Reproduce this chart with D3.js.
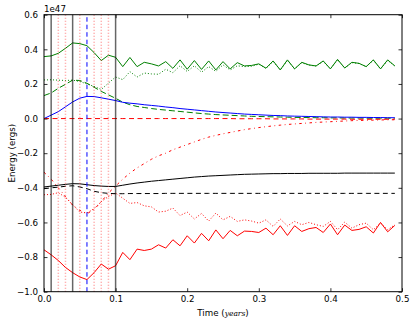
<!DOCTYPE html>
<html>
<head>
<meta charset="utf-8">
<script src="https://cdn.jsdelivr.net/npm/d3@7"></script>
<style>
  body { margin: 0; background: #fff; }
  svg { display: block; font-family: "DejaVu Sans", sans-serif; }
</style>
</head>
<body>
<div id="chart"></div>
<script>
/*-------------------- Data (energies in units of 1e47 ergs) -------------------*/

var times = [0.00, 0.01, 0.02, 0.03, 0.04, 0.05, 0.06, 0.07, 0.08, 0.09,
             0.10, 0.11, 0.12, 0.13, 0.14, 0.15, 0.16, 0.17, 0.18, 0.19,
             0.20, 0.21, 0.22, 0.23, 0.24, 0.25, 0.26, 0.27, 0.28, 0.29,
             0.30, 0.31, 0.32, 0.33, 0.34, 0.35, 0.36, 0.37, 0.38, 0.39,
             0.40, 0.41, 0.42, 0.43, 0.44, 0.45, 0.46, 0.47, 0.48, 0.49];

var greenSolid = [0.358, 0.362, 0.377, 0.406, 0.437, 0.433, 0.421, 0.381, 0.335, 0.366,
                  0.354, 0.300, 0.353, 0.300, 0.325, 0.316, 0.304, 0.329, 0.290, 0.339,
                  0.285, 0.335, 0.284, 0.333, 0.281, 0.329, 0.287, 0.323, 0.304, 0.307,
                  0.316, 0.291, 0.333, 0.281, 0.339, 0.287, 0.325, 0.310, 0.304, 0.333,
                  0.287, 0.342, 0.292, 0.325, 0.319, 0.300, 0.339, 0.287, 0.339, 0.304];

var greenDotted = [0.223, 0.224, 0.222, 0.220, 0.222, 0.214, 0.200, 0.186, 0.168, 0.205,
                   0.240, 0.225, 0.271, 0.240, 0.263, 0.258, 0.256, 0.285, 0.265, 0.305,
                   0.272, 0.305, 0.268, 0.300, 0.273, 0.310, 0.281, 0.305, 0.300, 0.302,
                   0.314, 0.290, 0.330, 0.281, 0.336, 0.287, 0.322, 0.309, 0.303, 0.330,
                   0.287, 0.338, 0.292, 0.323, 0.318, 0.300, 0.336, 0.287, 0.336, 0.304];

var greenDashed = [0.133, 0.148, 0.175, 0.198, 0.222, 0.220, 0.204, 0.181, 0.157, 0.137,
                   0.117, 0.095, 0.080, 0.070, 0.064, 0.058, 0.053, 0.049, 0.045, 0.041,
                   0.037, 0.033, 0.029, 0.026, 0.023, 0.021, 0.019, 0.017, 0.015, 0.013,
                   0.012, 0.011, 0.010, 0.009, 0.008, 0.007, 0.006, 0.006, 0.005, 0.005,
                   0.004, 0.004, 0.003, 0.003, 0.003, 0.002, 0.002, 0.002, 0.002, 0.002];

var blueSolid = [0.000, 0.020, 0.040, 0.068, 0.096, 0.118, 0.128, 0.127, 0.120, 0.112,
                 0.104, 0.094, 0.089, 0.085, 0.080, 0.076, 0.072, 0.067, 0.063, 0.058,
                 0.054, 0.050, 0.046, 0.042, 0.038, 0.035, 0.032, 0.029, 0.026, 0.024,
                 0.022, 0.020, 0.018, 0.017, 0.015, 0.014, 0.013, 0.012, 0.011, 0.010,
                 0.009, 0.009, 0.008, 0.008, 0.007, 0.007, 0.006, 0.006, 0.005, 0.005];

var redDashed = [0.000, 0.000, 0.000, 0.000, 0.000, 0.000, 0.000, 0.000, 0.000, 0.000,
                 0.000, 0.000, 0.000, 0.000, 0.000, 0.000, 0.000, 0.000, 0.000, 0.000,
                 0.000, 0.000, 0.000, 0.000, 0.000, 0.000, 0.000, -0.001, -0.001, -0.001,
                 -0.001, -0.001, -0.002, -0.002, -0.002, -0.002, -0.002, -0.003, -0.003, -0.003,
                 -0.003, -0.003, -0.003, -0.004, -0.004, -0.004, -0.004, -0.004, -0.004, -0.004];

var redDashDot = [-0.310, -0.350, -0.400, -0.450, -0.500, -0.530, -0.550, -0.525, -0.480, -0.430,
                  -0.390, -0.350, -0.315, -0.285, -0.260, -0.235, -0.215, -0.200, -0.180, -0.165,
                  -0.150, -0.135, -0.120, -0.107, -0.097, -0.088, -0.080, -0.072, -0.064, -0.058,
                  -0.052, -0.047, -0.042, -0.038, -0.034, -0.031, -0.028, -0.025, -0.022, -0.020,
                  -0.018, -0.016, -0.014, -0.012, -0.011, -0.010, -0.009, -0.008, -0.007, -0.007];

var redDotted = [-0.440, -0.438, -0.428, -0.455, -0.498, -0.540, -0.545, -0.520, -0.480, -0.450,
                 -0.430, -0.460, -0.490, -0.485, -0.504, -0.510, -0.540, -0.535, -0.517, -0.560,
                 -0.540, -0.580, -0.548, -0.592, -0.546, -0.585, -0.565, -0.594, -0.585, -0.592,
                 -0.604, -0.585, -0.623, -0.580, -0.620, -0.594, -0.613, -0.600, -0.613, -0.623,
                 -0.594, -0.642, -0.598, -0.633, -0.613, -0.604, -0.642, -0.604, -0.642, -0.613];

var redSolid = [-0.758, -0.787, -0.820, -0.860, -0.890, -0.915, -0.930, -0.890, -0.840, -0.870,
                -0.850, -0.773, -0.815, -0.754, -0.762, -0.754, -0.729, -0.748, -0.700, -0.735,
                -0.677, -0.719, -0.663, -0.706, -0.643, -0.694, -0.646, -0.677, -0.650, -0.652,
                -0.658, -0.633, -0.671, -0.619, -0.675, -0.619, -0.652, -0.636, -0.629, -0.658,
                -0.609, -0.671, -0.615, -0.646, -0.640, -0.625, -0.661, -0.600, -0.654, -0.617];

var blackSolid = [-0.395, -0.390, -0.385, -0.380, -0.376, -0.377, -0.382, -0.387, -0.390, -0.392,
                  -0.392, -0.385, -0.378, -0.372, -0.367, -0.362, -0.358, -0.354, -0.350, -0.346,
                  -0.342, -0.338, -0.335, -0.332, -0.330, -0.328, -0.326, -0.324, -0.322, -0.321,
                  -0.320, -0.319, -0.318, -0.318, -0.317, -0.317, -0.317, -0.316, -0.316, -0.316,
                  -0.316, -0.316, -0.315, -0.315, -0.315, -0.315, -0.315, -0.315, -0.315, -0.315];

var blackDashed = [-0.405, -0.400, -0.396, -0.391, -0.388, -0.395, -0.405, -0.420, -0.428, -0.432,
                   -0.434, -0.434, -0.433, -0.433, -0.433, -0.433, -0.433, -0.432, -0.432, -0.432,
                   -0.432, -0.432, -0.432, -0.432, -0.432, -0.432, -0.432, -0.432, -0.432, -0.432,
                   -0.432, -0.432, -0.432, -0.432, -0.432, -0.432, -0.432, -0.432, -0.432, -0.432,
                   -0.432, -0.432, -0.432, -0.432, -0.432, -0.432, -0.432, -0.432, -0.432, -0.432];

// marker times for the vertical lines
var blackMarks = [0.01, 0.04, 0.10];
var redMarks = [0.02, 0.03, 0.05, 0.07, 0.08, 0.09];
var blueMarks = [0.06];

var xTicks = [0.0, 0.1, 0.2, 0.3, 0.4, 0.5];
var yTicks = [-1.0, -0.8, -0.6, -0.4, -0.2, 0.0, 0.2, 0.4, 0.6];

/*-------------------- Drawing -------------------*/

var width = 415, height = 325;
var margin = {top: 14.7, right: 13, bottom: 33.3, left: 44};
var fontSize = 8.7;

var svg = d3.select("#chart").append("svg")
    .attr("width", width)
    .attr("height", height);

var xScale = d3.scaleLinear().domain([0, 0.5]).range([margin.left, width - margin.right]);
var yScale = d3.scaleLinear().domain([-1.0, 0.6]).range([height - margin.bottom, margin.top]);

var series = [
    {values: greenSolid,  color: "#008000", dash: null},
    {values: greenDotted, color: "#008000", dash: "1,2"},
    {values: greenDashed, color: "#008000", dash: "6,3"},
    {values: blueSolid,   color: "#0000ff", dash: null},
    {values: redDashed,   color: "#ff0000", dash: "5,3.5"},
    {values: redDashDot,  color: "#ff0000", dash: "2.5,3.5,0.8,3.5"},
    {values: redDotted,   color: "#ff0000", dash: "1,2"},
    {values: redSolid,    color: "#ff0000", dash: null},
    {values: blackSolid,  color: "#000000", dash: null},
    {values: blackDashed, color: "#000000", dash: "5,3.5"}
];

var line = d3.line()
    .x((d, i) => xScale(times[i]))
    .y(d => yScale(d));

svg.append("g").selectAll("path")
    .data(series)
    .enter()
    .append("path")
    .attr("d", d => line(d.values))
    .attr("fill", "none")
    .attr("stroke", d => d.color)
    .attr("stroke-width", 1)
    .attr("stroke-dasharray", d => d.dash);

// vertical marker lines
var y0 = yScale(-1.0), y1 = yScale(0.6);
var vlines = svg.append("g");
vlines.selectAll("line.red")
    .data(redMarks)
    .enter()
    .append("line")
    .attr("class", "red")
    .attr("x1", d => xScale(d)).attr("x2", d => xScale(d))
    .attr("y1", y0).attr("y2", y1)
    .attr("stroke", "#ff0000")
    .attr("stroke-opacity", 0.4)
    .attr("stroke-width", 1.5)
    .attr("stroke-dasharray", "1,2");
vlines.selectAll("line.black")
    .data(blackMarks)
    .enter()
    .append("line")
    .attr("class", "black")
    .attr("x1", d => xScale(d)).attr("x2", d => xScale(d))
    .attr("y1", y0).attr("y2", y1)
    .attr("stroke", "#000")
    .attr("stroke-opacity", 0.6)
    .attr("stroke-width", 1.5);
vlines.selectAll("line.blue")
    .data(blueMarks)
    .enter()
    .append("line")
    .attr("class", "blue")
    .attr("x1", d => xScale(d)).attr("x2", d => xScale(d))
    .attr("y1", y0).attr("y2", y1)
    .attr("stroke", "#0000ff")
    .attr("stroke-width", 1)
    .attr("stroke-dasharray", "4.5,3");

// axes: ticks inside on all four sides (matplotlib classic look)
var tickLen = 3.5;
var fmt = d => d3.format(".1f")(d).replace("-", "\u2212");

svg.append("g")
    .attr("transform", "translate(0," + y0 + ")")
    .call(d3.axisBottom(xScale).tickValues(xTicks).tickSizeInner(-tickLen).tickSizeOuter(0).tickPadding(4).tickFormat(fmt));
svg.append("g")
    .attr("transform", "translate(0," + y1 + ")")
    .call(d3.axisTop(xScale).tickValues(xTicks).tickSizeInner(-tickLen).tickSizeOuter(0).tickFormat(""));
svg.append("g")
    .attr("transform", "translate(" + xScale(0) + ",0)")
    .call(d3.axisLeft(yScale).tickValues(yTicks).tickSizeInner(-tickLen).tickSizeOuter(0).tickPadding(6).tickFormat(fmt));
svg.append("g")
    .attr("transform", "translate(" + xScale(0.5) + ",0)")
    .call(d3.axisRight(yScale).tickValues(yTicks).tickSizeInner(-tickLen).tickSizeOuter(0).tickFormat(""));

svg.selectAll(".domain").remove();
svg.selectAll(".tick line").attr("stroke", "#000").attr("stroke-width", 0.8);
svg.selectAll(".tick text")
    .attr("fill", "#000")
    .style("font-family", "DejaVu Sans, sans-serif")
    .style("font-size", fontSize + "px");

// frame
svg.append("rect")
    .attr("x", xScale(0)).attr("y", y1)
    .attr("width", xScale(0.5) - xScale(0))
    .attr("height", y0 - y1)
    .attr("fill", "none")
    .attr("stroke", "#000")
    .attr("stroke-width", 1);

// offset text
svg.append("text")
    .attr("x", xScale(0))
    .attr("y", 11.7)
    .style("font-size", fontSize + "px")
    .text("1e47");

// x label
var xl = svg.append("text")
    .attr("x", (xScale(0) + xScale(0.5)) / 2)
    .attr("y", 316)
    .attr("text-anchor", "middle")
    .style("font-size", fontSize + "px");
xl.append("tspan").text("Time (");
xl.append("tspan")
    .style("font-family", "DejaVu Serif, serif")
    .style("font-style", "italic")
    .style("font-size", "7.5px")
    .text("years");
xl.append("tspan").text(")");

// y label
svg.append("text")
    .attr("transform", "translate(15," + (y0 + y1) / 2 + ") rotate(-90)")
    .attr("text-anchor", "middle")
    .style("font-size", fontSize + "px")
    .text("Energy (ergs)");
</script>
</body>
</html>
